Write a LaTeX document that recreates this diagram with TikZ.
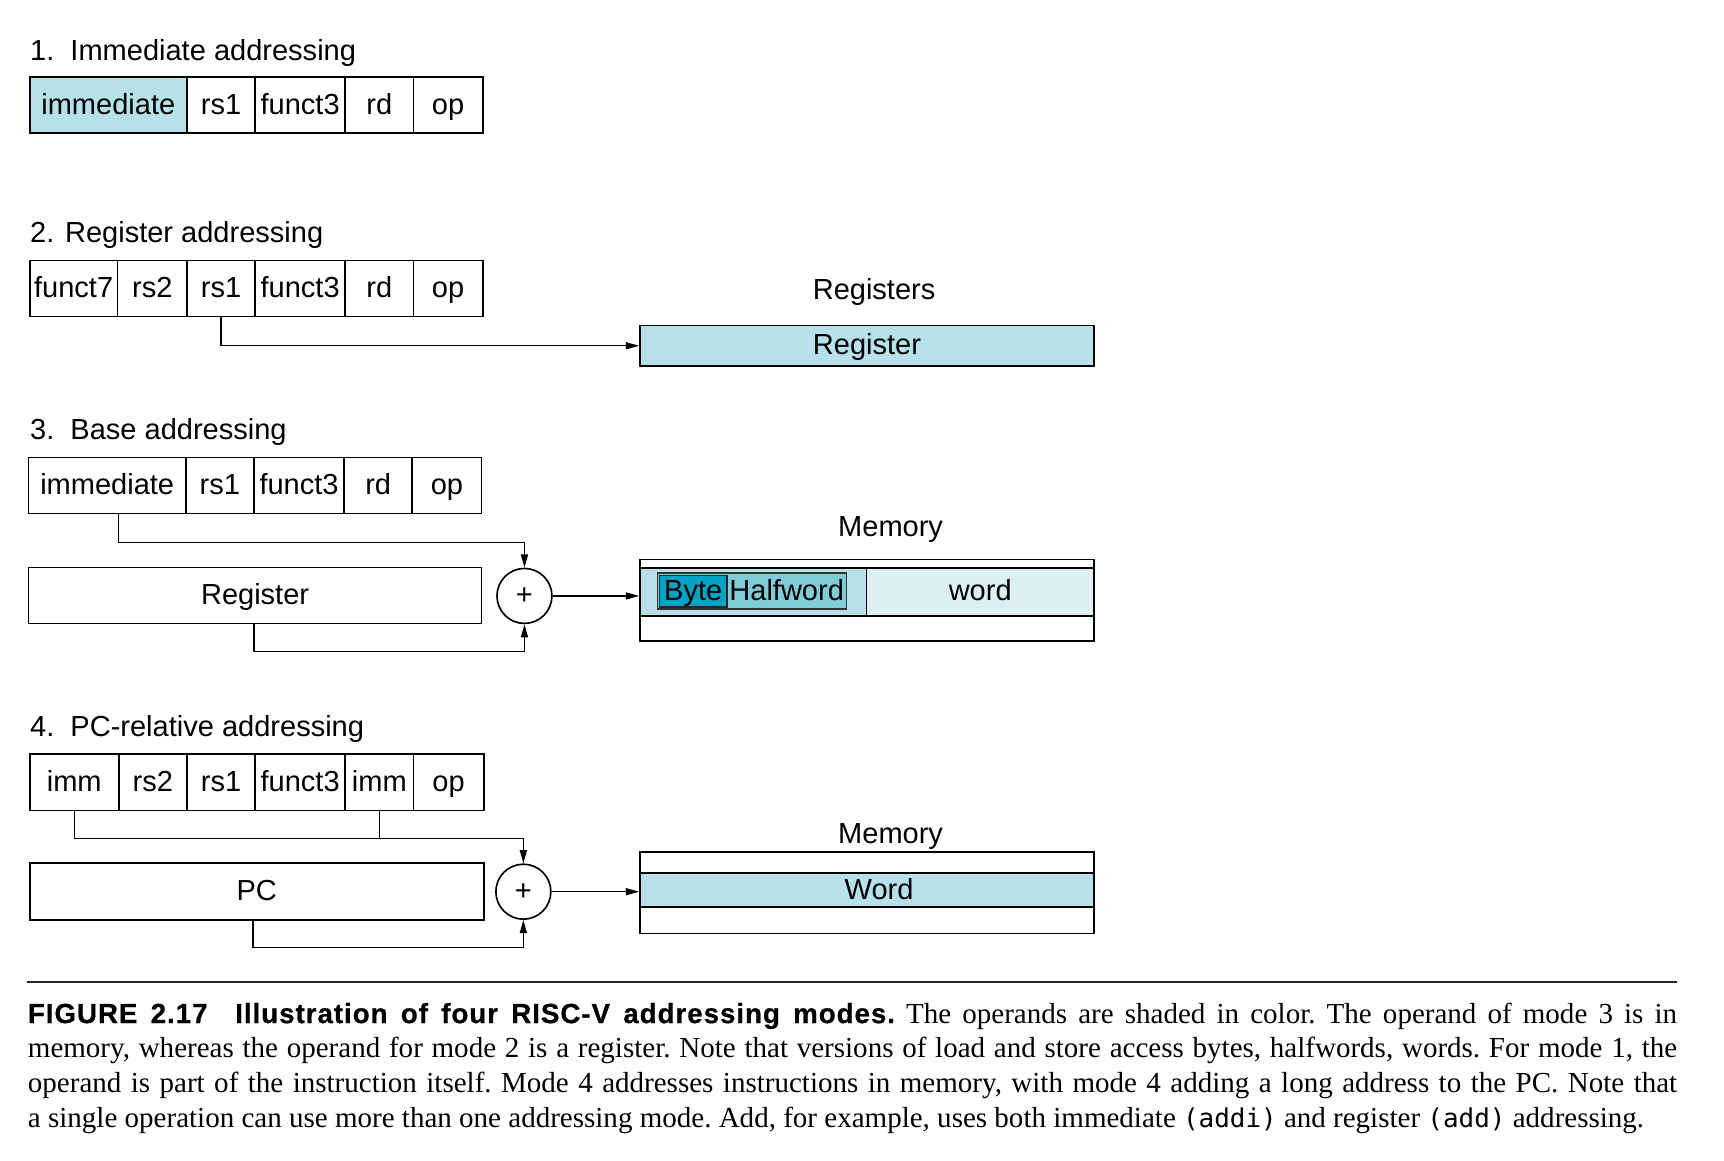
\documentclass[tikz,border=0pt]{standalone}
\usepackage{fontspec}
\setmainfont{Liberation Serif}
\setsansfont{Liberation Sans}
\newfontfamily\headfam[LetterSpace=3.5,FakeBold=0.6]{Liberation Sans}
\newfontfamily\codefont{DejaVu Sans Mono}
\usetikzlibrary{arrows.meta,calc}
\definecolor{regcyan}{HTML}{B7E1E8}
\definecolor{hwcyan}{HTML}{80CBD8}
\definecolor{bytecyan}{HTML}{00A3C3}
\definecolor{wordcyan}{HTML}{DCF0F4}
\newcommand\lab{\sffamily\fontsize{13.2pt}{15pt}\selectfont}
\newcommand\capfont{\rmfamily\fontsize{13.2pt}{15.85pt}\selectfont}
\tikzset{
  field/.style={draw=black, line width=0.75pt, inner sep=0pt, font=\lab,
    text height=10.3pt, text depth=2pt},
  strip/.style={text height=0pt, text depth=0pt},
  wire/.style={line width=0.6pt},
  conn/.style={line width=0.6pt, -{Triangle[length=6pt,width=3.2pt]}},
  title/.style={anchor=base west, inner sep=0pt, font=\lab},
  lbl/.style={anchor=base, inner sep=0pt, font=\lab},
  adder/.style={circle, draw=black, line width=0.75pt, minimum size=25pt, inner sep=0pt, font=\lab},
}
\newcommand\fld[7][]{\node[field,#1,minimum width={(#4-#3)*0.5pt},minimum height={(#6-#5)*0.5pt}] (#2) at ({(#3+#4)/2},{(#5+#6)/2}) {#7};}
\begin{document}
\begin{tikzpicture}[x=0.5pt,y=-0.5pt]
\useasboundingbox[fill=white] (0,0) rectangle (1568,1055.3);

% ---- 1. Immediate addressing
\node[title] (t1) at (27,55) {1.\ \ Immediate addressing};
\fld[fill=regcyan]{r1a}{27}{170}{70}{121}{immediate}
\fld{r1b}{170}{232}{70}{121}{rs1}
\fld{r1c}{232}{314}{70}{121}{funct3}
\fld{r1d}{314}{376}{70}{121}{rd}
\fld{r1e}{376}{439}{70}{121}{op}

% ---- 2. Register addressing
\node[title] (t2) at (27,221) {2. Register addressing};
\fld{r2a}{27}{107}{237}{288}{funct7}
\fld{r2b}{107}{170}{237}{288}{rs2}
\fld{r2c}{170}{232}{237}{288}{rs1}
\fld{r2d}{232}{314}{237}{288}{funct3}
\fld{r2e}{314}{376}{237}{288}{rd}
\fld{r2f}{376}{439}{237}{288}{op}
\node[lbl] (regs) at (795,272) {Registers};
\fld[fill=regcyan]{reg2}{582}{995}{296}{333}{Register}
\draw[conn] (r2c.south) |- (reg2.west);

% ---- 3. Base addressing
\node[title] (t3) at (27,400) {3.\ \ Base addressing};
\fld{r3a}{26}{169}{416}{467}{immediate}
\fld{r3b}{169}{231}{416}{467}{rs1}
\fld{r3c}{231}{313}{416}{467}{funct3}
\fld{r3d}{313}{375}{416}{467}{rd}
\fld{r3e}{375}{438}{416}{467}{op}
\fld{reg3}{26}{438}{516}{567}{Register}
\node[adder] (plus3) at (477,542) {+};
\node[lbl] (mem3l) at (810,488) {Memory};
\fld[strip]{m3top}{582}{995}{509}{516.5}{}
\fld[strip,fill=regcyan]{m3hw}{582}{788}{516.5}{560}{}
\fld[fill=wordcyan]{m3w}{788}{995}{516.5}{560}{word}
\fld[strip]{m3bot}{582}{995}{560}{583}{}
\fld[strip,fill=hwcyan,draw=black!80,line width=0.6pt]{hwbox}{598}{770}{521}{554}{}
\fld[fill=bytecyan,draw=black!85,line width=0.7pt]{bytebox}{600}{661}{523.5}{552}{Byte}
\node[field,draw=none] (hwtxt) at (715.5,537.5) {Halfword};
\draw[conn] ([xshift=5pt]r3a.south) -- ++(0,25.5) -| (plus3.north);
\draw[conn] ([xshift=-0.5pt]reg3.south) -- ++(0,24.5) -| (plus3.south);
\draw[conn] (plus3.east) -- (plus3.east -| m3hw.west);

% ---- 4. PC-relative addressing
\node[title] (t4) at (27,670) {4.\ \ PC-relative addressing};
\fld{r4a}{27}{108}{686}{737}{imm}
\fld{r4b}{108}{170}{686}{737}{rs2}
\fld{r4c}{170}{232}{686}{737}{rs1}
\fld{r4d}{232}{314}{686}{737}{funct3}
\fld{r4e}{314}{376}{686}{737}{imm}
\fld{r4f}{376}{440}{686}{737}{op}
\fld{pc}{27}{440}{785}{837}{PC}
\node[adder] (plus4) at (476,811) {+};
\node[lbl] (mem4l) at (810,767) {Memory};
\fld[strip]{m4top}{582}{995}{775}{794}{}
\fld[fill=regcyan]{m4w}{582}{995}{794}{825}{\hspace*{11pt}Word}
\fld[strip]{m4bot}{582}{995}{825}{849}{}
\draw[conn] (r4a.south) -- ++(0,25) -| (plus4.north);
\draw[wire] (r4e.south) -- ++(0,25);
\draw[conn] ([xshift=-1.75pt]pc.south) -- ++(0,24) -| (plus4.south);
\draw[conn] (plus4.east) -- (plus4.east -| m4w.west);

% ---- caption
\coordinate (rl) at (25,893);
\coordinate (rr) at (1525,893);
\draw[line width=0.9pt, black!85] (rl) -- (rr);
\node[anchor=north west, inner sep=0pt, text width=750pt, align=justify, font=\capfont] (cap) at (25,911.5)
{\parindent=0pt\frenchspacing\hyphenpenalty=10000\exhyphenpenalty=10000\tolerance=10000
{\headfam\bfseries\fontsize{12.6pt}{15.85pt}\selectfont FIGURE 2.17\hspace{1em}Illustration of four RISC-V addressing modes.} The operands are shaded in color. The operand of mode 3 is in\linebreak
memory, whereas the operand for mode 2 is a register. Note that versions of load and store access bytes, halfwords, words. For mode 1, the\linebreak
operand is part of the instruction itself. Mode 4 addresses instructions in memory, with mode 4 adding a long address to the PC. Note that\linebreak
a single operation can use more than one addressing mode. Add, for example, uses both immediate {\codefont\fontsize{11.8pt}{15.85pt}\selectfont(addi)} and register {\codefont\fontsize{11.8pt}{15.85pt}\selectfont(add)} addressing.\par};
\end{tikzpicture}
\end{document}
